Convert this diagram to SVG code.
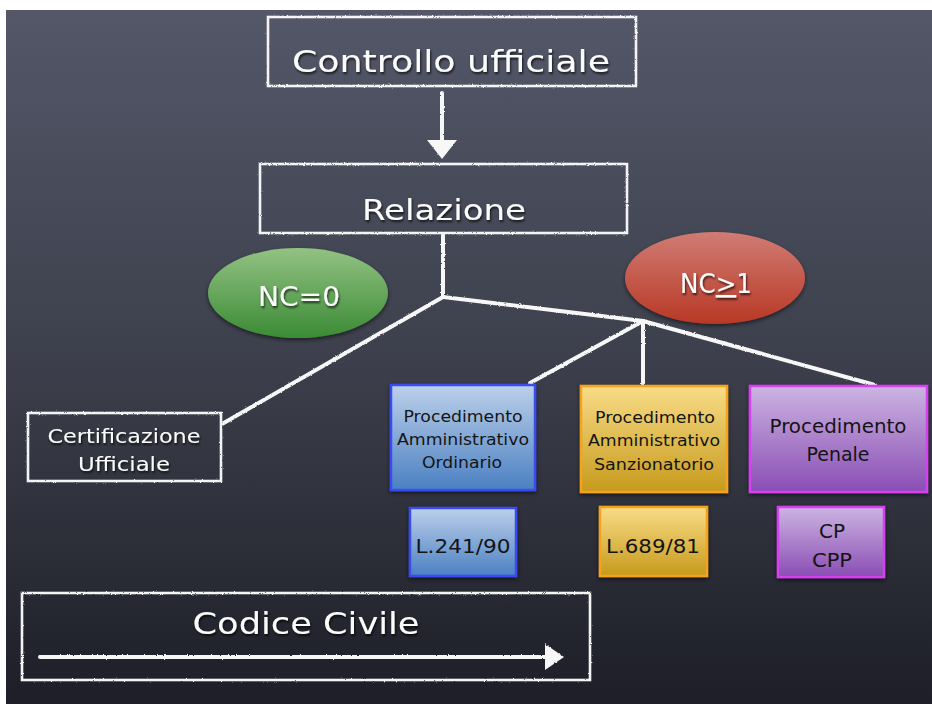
<svg xmlns="http://www.w3.org/2000/svg" width="932" height="704" viewBox="0 0 932 704">
<defs>
<linearGradient id="bg" x1="0" y1="0" x2="0" y2="1">
<stop offset="0" stop-color="#535768"/>
<stop offset="0.5" stop-color="#3d404c"/>
<stop offset="1" stop-color="#1d1e27"/>
</linearGradient>
<linearGradient id="gGreen" x1="0" y1="0" x2="0" y2="1">
<stop offset="0" stop-color="#93c283"/>
<stop offset="1" stop-color="#3b8b35"/>
</linearGradient>
<linearGradient id="gRed" x1="0" y1="0" x2="0" y2="1">
<stop offset="0" stop-color="#d07c74"/>
<stop offset="1" stop-color="#b83826"/>
</linearGradient>
<linearGradient id="gBlue" x1="0" y1="0" x2="0" y2="1">
<stop offset="0" stop-color="#bcd0ea"/>
<stop offset="1" stop-color="#4b80c2"/>
</linearGradient>
<linearGradient id="gYellow" x1="0" y1="0" x2="0" y2="1">
<stop offset="0" stop-color="#f8dc86"/>
<stop offset="1" stop-color="#c79a1c"/>
</linearGradient>
<linearGradient id="gPurple" x1="0" y1="0" x2="0" y2="1">
<stop offset="0" stop-color="#ccb4e2"/>
<stop offset="1" stop-color="#8a4db4"/>
</linearGradient>
<filter id="chalk" x="-5%" y="-5%" width="110%" height="110%">
<feTurbulence type="fractalNoise" baseFrequency="0.9" numOctaves="2" seed="3" result="n"/>
<feDisplacementMap in="SourceGraphic" in2="n" scale="2.2" xChannelSelector="R" yChannelSelector="G"/>
</filter>
<filter id="shadow" x="-10%" y="-10%" width="120%" height="130%">
<feDropShadow dx="0" dy="2" stdDeviation="2" flood-color="#000" flood-opacity="0.55"/>
</filter>
<filter id="tshadow" x="-10%" y="-20%" width="120%" height="150%">
<feDropShadow dx="1" dy="2" stdDeviation="1.2" flood-color="#000" flood-opacity="0.7"/>
</filter>
<style>
.chalkbox{fill:none;stroke:#f4f4f4;stroke-width:2.6}
.conn{stroke:#f7f7f7;stroke-width:4;fill:none;stroke-linecap:round}
.wt{fill:#fbfbfb;font-family:"DejaVu Sans","Noto Sans",sans-serif;text-anchor:middle}
.bt{fill:#141414;font-family:"DejaVu Sans","Noto Sans",sans-serif;text-anchor:middle}
</style>
</defs>
<rect x="0" y="0" width="932" height="704" fill="#ffffff"/>
<rect x="6" y="10" width="926" height="694" fill="url(#bg)"/>

<g id="controllo">
<rect class="chalkbox" x="268" y="17" width="368" height="69" filter="url(#chalk)"/>
<text class="wt" x="451" y="72" font-size="30" textLength="318" lengthAdjust="spacingAndGlyphs" filter="url(#tshadow)">Controllo ufficiale</text>
</g>

<g id="relazione">
<rect class="chalkbox" x="260" y="164" width="367" height="69" filter="url(#chalk)"/>
<text class="wt" x="444" y="220" font-size="28" textLength="164" lengthAdjust="spacingAndGlyphs" filter="url(#tshadow)">Relazione</text>
</g>

<g id="nc0">
<ellipse cx="298" cy="293" rx="90" ry="45" fill="url(#gGreen)" filter="url(#shadow)"/>
<text class="wt" x="299" y="306" font-size="26" textLength="82" lengthAdjust="spacingAndGlyphs" filter="url(#tshadow)">NC=0</text>
</g>

<g id="nc1">
<ellipse cx="715" cy="278" rx="90" ry="46" fill="url(#gRed)" filter="url(#shadow)"/>
<text class="wt" x="716" y="293" font-size="26" textLength="72" lengthAdjust="spacingAndGlyphs" filter="url(#tshadow)">NC<tspan text-decoration="underline">&gt;</tspan>1</text>
</g>

<g id="connectors" filter="url(#chalk)">
<line class="conn" x1="442" y1="93" x2="442" y2="142"/>
<polygon points="427,140 457,140 442,159" fill="#f7f7f7"/>
<polyline class="conn" points="443,235 443,297 643,321"/>
<line class="conn" x1="443" y1="297" x2="222" y2="424"/>
<line class="conn" x1="643" y1="321" x2="530" y2="383"/>
<line class="conn" x1="643" y1="321" x2="643" y2="384"/>
<line class="conn" x1="643" y1="321" x2="875" y2="385"/>
</g>

<g id="certificazione">
<rect class="chalkbox" x="28" y="413" width="193" height="68" filter="url(#chalk)"/>
<text class="wt" x="124" y="443" font-size="19" textLength="153" lengthAdjust="spacingAndGlyphs" filter="url(#tshadow)">Certificazione</text>
<text class="wt" x="124" y="471" font-size="19" textLength="92" lengthAdjust="spacingAndGlyphs" filter="url(#tshadow)">Ufficiale</text>
</g>

<g id="pao">
<rect x="391" y="385" width="144" height="105" fill="url(#gBlue)" stroke="#3b4cf2" stroke-width="2.5" filter="url(#shadow)"/>
<text class="bt" x="463" y="422" font-size="16" textLength="119" lengthAdjust="spacingAndGlyphs">Procedimento</text>
<text class="bt" x="463" y="445" font-size="16" textLength="132" lengthAdjust="spacingAndGlyphs">Amministrativo</text>
<text class="bt" x="462" y="468" font-size="16" textLength="80" lengthAdjust="spacingAndGlyphs">Ordinario</text>
</g>

<g id="pas">
<rect x="581" y="386" width="146" height="106" fill="url(#gYellow)" stroke="#f5a31f" stroke-width="2.5" filter="url(#shadow)"/>
<text class="bt" x="655" y="423" font-size="16" textLength="120" lengthAdjust="spacingAndGlyphs">Procedimento</text>
<text class="bt" x="654" y="446" font-size="16" textLength="132" lengthAdjust="spacingAndGlyphs">Amministrativo</text>
<text class="bt" x="654" y="470" font-size="16" textLength="120" lengthAdjust="spacingAndGlyphs">Sanzionatorio</text>
</g>

<g id="pp">
<rect x="750" y="386" width="177" height="106" fill="url(#gPurple)" stroke="#d63ff2" stroke-width="2.5" filter="url(#shadow)"/>
<text class="bt" x="838" y="433" font-size="19" textLength="137" lengthAdjust="spacingAndGlyphs">Procedimento</text>
<text class="bt" x="838" y="461" font-size="19" textLength="63" lengthAdjust="spacingAndGlyphs">Penale</text>
</g>

<g id="l241">
<rect x="410" y="508" width="106" height="68" fill="url(#gBlue)" stroke="#3b4cf2" stroke-width="2.5" filter="url(#shadow)"/>
<text class="bt" x="463" y="553" font-size="20" textLength="95" lengthAdjust="spacingAndGlyphs">L.241/90</text>
</g>

<g id="l689">
<rect x="600" y="507" width="107" height="69" fill="url(#gYellow)" stroke="#f5a31f" stroke-width="2.5" filter="url(#shadow)"/>
<text class="bt" x="653" y="553" font-size="20" textLength="94" lengthAdjust="spacingAndGlyphs">L.689/81</text>
</g>

<g id="cp">
<rect x="778" y="507" width="106" height="70" fill="url(#gPurple)" stroke="#d63ff2" stroke-width="2.5" filter="url(#shadow)"/>
<text class="bt" x="832" y="538" font-size="19" textLength="26" lengthAdjust="spacingAndGlyphs">CP</text>
<text class="bt" x="832" y="567" font-size="19" textLength="40" lengthAdjust="spacingAndGlyphs">CPP</text>
</g>

<g id="codice">
<rect class="chalkbox" x="22" y="593" width="568" height="87" filter="url(#chalk)"/>
<text class="wt" x="306" y="634" font-size="30" textLength="227" lengthAdjust="spacingAndGlyphs" filter="url(#tshadow)">Codice Civile</text>
<g filter="url(#chalk)">
<line class="conn" x1="40" y1="657" x2="548" y2="657"/>
<polygon points="545,644 545,670 564,657" fill="#f7f7f7"/>
</g>
</g>
</svg>
